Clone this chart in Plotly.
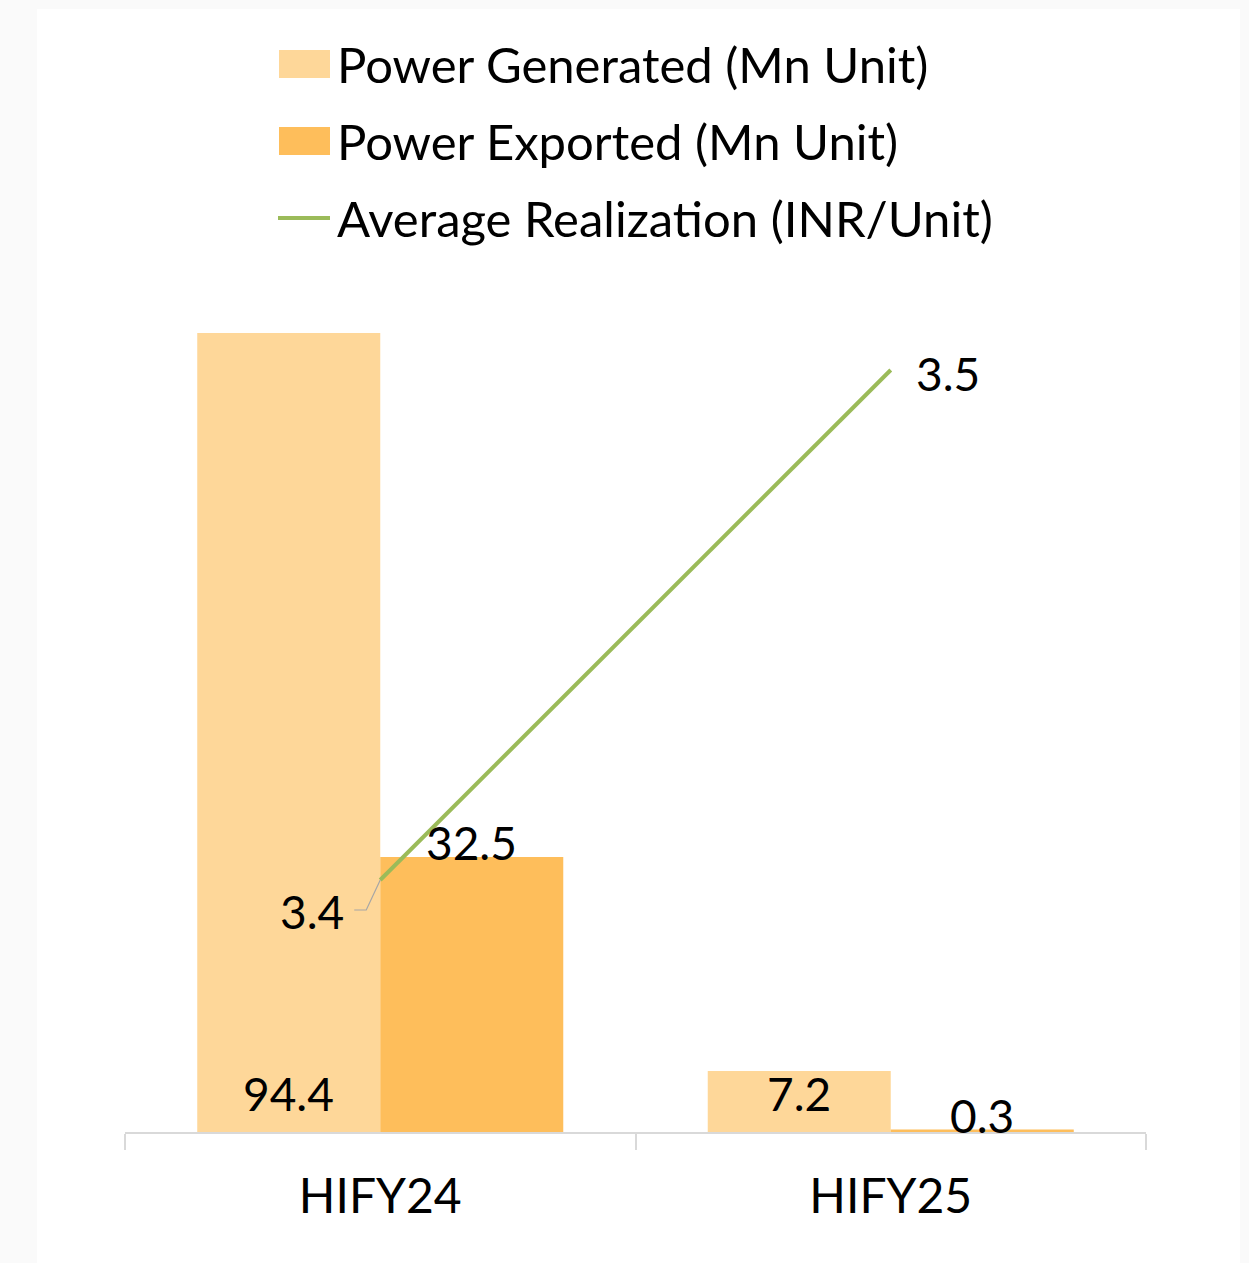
import plotly.graph_objects as go

# ---- data ----
categories = ["HIFY24", "HIFY25"]
power_generated = [94.4, 7.2]
power_exported = [32.5, 0.3]
avg_realization = [3.4, 3.5]
series_names = ["Power Generated (Mn Unit)", "Power Exported (Mn Unit)", "Average Realization (INR/Unit)"]

# ---- styling / layout constants ----
W, H = 1249, 1263
FONT = "Lato"
FS = 46
FS_LEG = 49
FS_TICK = 48
C_GEN = "#FED799"
C_EXP = "#FEBE5B"
C_LINE = "#9BBB59"
AXIS_C = "#D9D9D9"

X0, X1 = 125, 1146          # plot area left/right (px)
Y_BASE, Y_TOP = 1132, 285.6  # baseline / top of plot area (px)


def px(x):
    return x / W


def py(y):
    return 1 - y / H


fig = go.Figure()
fig.add_trace(go.Bar(x=categories, y=power_generated, name=series_names[0],
                     marker=dict(color=C_GEN, line=dict(width=0)), showlegend=False))
fig.add_trace(go.Bar(x=categories, y=power_exported, name=series_names[1],
                     marker=dict(color=C_EXP, line=dict(width=0)), showlegend=False))
fig.add_trace(go.Scatter(x=categories, y=avg_realization, name=series_names[2], yaxis="y2",
                         mode="lines", line=dict(color=C_LINE, width=4),
                         cliponaxis=False, showlegend=False))

plot_h = Y_BASE - Y_TOP
# y2 scale chosen so the line sits as in the reference
y2_pix_per_unit = 5100.0
y2_lo = avg_realization[0] - (Y_BASE - 880) / y2_pix_per_unit
y2_hi = y2_lo + plot_h / y2_pix_per_unit

bar_w_px = (X1 - X0) / len(categories) * (1 - 0.283) / 2
ann = []
# generated labels (inside base)
for c, v in zip(categories, power_generated):
    ann.append(dict(x=c, y=0, xref="x", yref="y", text=f"{v:.1f}", showarrow=False,
                    xshift=-bar_w_px / 2, yshift=39, yanchor="middle",
                    font=dict(family=FONT, size=FS, color="black")))
# exported labels (outside end)
for c, v in zip(categories, power_exported):
    ann.append(dict(x=c, y=v, xref="x", yref="y", text=f"{v:.1f}", showarrow=False,
                    xshift=bar_w_px / 2, yshift=14, yanchor="middle",
                    font=dict(family=FONT, size=FS, color="black")))
# line labels
ann.append(dict(x=categories[0], y=avg_realization[0], xref="x", yref="y2",
                text=f"{avg_realization[0]:.1f}", showarrow=False, xanchor="right",
                xshift=-34, yshift=-31, yanchor="middle",
                font=dict(family=FONT, size=FS, color="black")))
ann.append(dict(x=categories[1], y=avg_realization[1], xref="x", yref="y2",
                text=f"{avg_realization[1]:.1f}", showarrow=False, xanchor="left",
                xshift=23, yshift=-3, yanchor="middle",
                font=dict(family=FONT, size=FS, color="black")))

shapes = []
# background panel
shapes.append(dict(type="rect", xref="paper", yref="paper", x0=px(37), x1=px(1240), y0=py(H), y1=py(9),
                   fillcolor="white", line=dict(width=0), layer="below"))
# leader line for 3.4 label
shapes.append(dict(type="path", xref="x", yref="y2", xsizemode="pixel", ysizemode="pixel",
                   xanchor=categories[0], yanchor=avg_realization[0],
                   path="M0,0 L-14,-30 L-26,-30", line=dict(color="#A6A6A6", width=1.2)))

# custom legend
leg_rows = [64, 141, 218]
leg_colors = [C_GEN, C_EXP, C_LINE]
for i, (yc, col, nm) in enumerate(zip(leg_rows, leg_colors, series_names)):
    if i < 2:
        shapes.append(dict(type="rect", xref="paper", yref="paper", x0=px(279), x1=px(330),
                           y0=py(yc + 14), y1=py(yc - 14), fillcolor=col, line=dict(width=0)))
    else:
        shapes.append(dict(type="line", xref="paper", yref="paper", x0=px(278), x1=px(330),
                           y0=py(yc), y1=py(yc), line=dict(color=col, width=4)))
    ann.append(dict(x=px(335), y=py(yc), xref="paper", yref="paper", text=nm, showarrow=False,
                    xanchor="left", yanchor="middle",
                    font=dict(family=FONT, size=FS_LEG, color="black")))

fig.update_layout(
    width=W, height=H,
    margin=dict(l=0, r=0, t=0, b=0),
    paper_bgcolor="#FAFAFA", plot_bgcolor="rgba(0,0,0,0)",
    barmode="group", bargap=0.283, bargroupgap=0,
    font=dict(family=FONT, size=FS, color="black"),
    showlegend=False,
    xaxis=dict(domain=[px(X0), px(X1)], showline=True, linecolor=AXIS_C, linewidth=1.5,
               ticks="outside", tickson="boundaries", ticklen=16, tickcolor=AXIS_C, tickwidth=1.5,
               showgrid=False, zeroline=False, tickfont=dict(family=FONT, size=FS_TICK, color="black"),
               ticklabelstandoff=22),
    yaxis=dict(domain=[py(Y_BASE), py(Y_TOP)], range=[0, 100], visible=False, showgrid=False),
    yaxis2=dict(domain=[py(Y_BASE), py(Y_TOP)], range=[y2_lo, y2_hi], overlaying="y",
                visible=False, showgrid=False),
    annotations=ann, shapes=shapes,
)

fig.write_html("out.html", config={"displayModeBar": False},
               post_script="document.body.style.margin='0';document.body.style.overflow='hidden';")
